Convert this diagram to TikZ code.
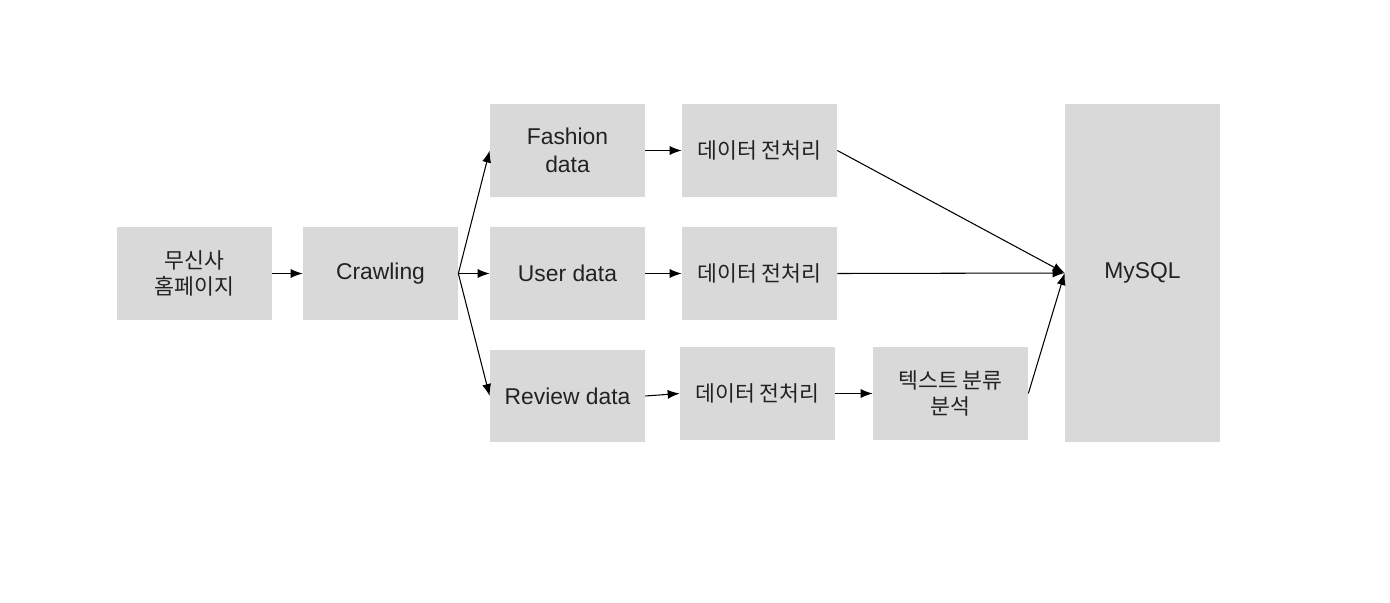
\documentclass[tikz,border=0pt]{standalone}
\usepackage{fontspec}
\setmainfont{Liberation Sans}
\newfontfamily\krfont{Noto Sans CJK KR}
\usetikzlibrary{arrows.meta}
\definecolor{boxgray}{HTML}{D9D9D9}
\definecolor{inkgray}{HTML}{222222}

\tikzset{
	stagebox/.style={fill=boxgray, text=inkgray, minimum width=3.1cm, minimum height=1.86cm, inner sep=0pt, align=center, font=\fontsize{13}{15.8}\selectfont},
	krtext/.style={font=\krfont\fontsize{12.3}{14.5}\selectfont},
	flow/.style={-{Latex[length=2.4mm,width=1.8mm]}, semithick}
}

\begin{document}
\begin{tikzpicture}[x=0.02cm, y=-0.02cm]
	\useasboundingbox (0,0) rectangle (1390,602);

	%source and crawler
	\node[stagebox, krtext] (web) at (194.5,273.5) {무신사\\홈페이지};
	\node[stagebox] (crawl) at (380.5,273.5) {Crawling};

	%raw data
	\node[stagebox] (fashion) at (567.5,150.5) {Fashion\\data};
	\node[stagebox] (user) at (567.5,273.5) {User data};
	\node[stagebox] (review) at (567.5,396) {Review data};

	%preprocessing
	\node[stagebox, krtext] (prepA) at (759.5,150.5) {데이터 전처리};
	\node[stagebox, krtext] (prepB) at (759.5,273.5) {데이터 전처리};
	\node[stagebox, krtext] (prepC) at (757.5,393.5) {데이터 전처리};
	\node[stagebox, krtext] (textcls) at (950.5,393.5) {텍스트 분류\\분석};

	%database
	\node[stagebox, minimum height=6.76cm] (mysql) at (1142.5,273) {MySQL};

	%arrows
	\draw[flow] (web) -- (crawl);
	\draw[flow] (crawl.east) -- (fashion.west);
	\draw[flow] (crawl.east) -- (user.west);
	\draw[flow] (crawl.east) -- (review.west);
	\draw[flow] (fashion) -- (prepA);
	\draw[flow] (user) -- (prepB);
	\draw[flow] (review.east) -- (prepC.west);
	\draw[flow] (prepC) -- (textcls);
	\draw[flow] (prepA.east) -- (mysql.west);
	\draw[flow] (prepB.east) -- (mysql.west);
	\draw[flow] (textcls.east) -- (mysql.west);
\end{tikzpicture}
\end{document}
